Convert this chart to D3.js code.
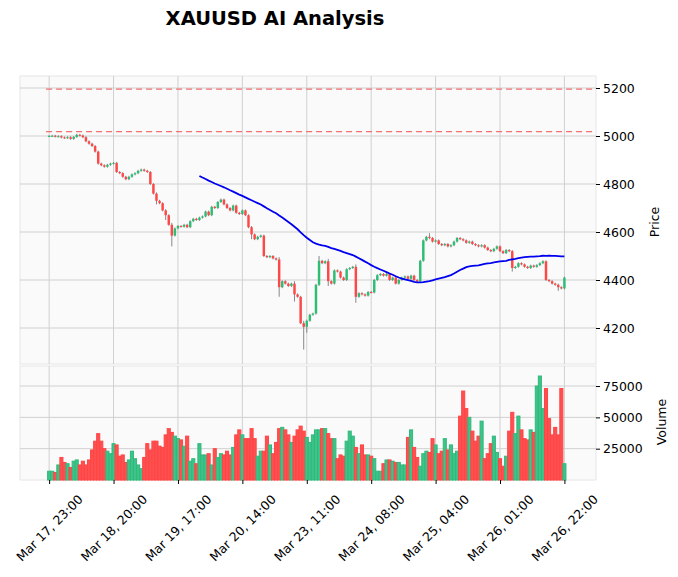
<!DOCTYPE html>
<html><head><meta charset="utf-8">
<script src="https://cdn.jsdelivr.net/npm/d3@7"></script>
<style>body{margin:0;background:#fff;font-family:"DejaVu Sans",sans-serif}</style>
</head><body><svg id="c" width="678" height="577"></svg>
<script>
const tickLabels = ["Mar 17, 23:00","Mar 18, 20:00","Mar 19, 17:00","Mar 20, 14:00","Mar 23, 11:00","Mar 24, 08:00","Mar 25, 04:00","Mar 26, 01:00","Mar 26, 22:00"];
const tickIndex = [0,21,42,63,84,105,126,147,168];
const firstOpen = 5000;
const closes = [
5000,5001,4998,4999,4994,4992,4995,4988,4996,5005,5002,4995,4978,4968,4958,4935,4885,4878,4872,4880,
4885,4888,4850,4845,4830,4820,4830,4840,4845,4855,4860,4855,4850,4800,4760,4730,4720,4690,4670,4630,
4585,4615,4625,4622,4630,4620,4645,4655,4650,4660,4665,4685,4670,4705,4700,4725,4735,4715,4700,4690,
4710,4680,4675,4690,4670,4620,4590,4570,4580,4585,4500,4495,4500,4490,4485,4370,4395,4385,4375,4385,
4340,4330,4220,4205,4230,4255,4260,4380,4480,4470,4478,4395,4385,4440,4435,4410,4400,4445,4450,4455,
4330,4345,4340,4335,4350,4348,4400,4420,4425,4418,4425,4400,4410,4385,4400,4410,4415,4405,4418,4400,
4395,4480,4565,4580,4575,4560,4565,4550,4545,4550,4540,4545,4560,4575,4570,4565,4555,4560,4550,4545,
4540,4545,4535,4525,4520,4530,4540,4520,4512,4525,4520,4450,4455,4470,4465,4455,4450,4460,4455,4462,
4470,4478,4400,4395,4385,4380,4370,4365,4410];
const volumes = [
7,7,6,12,18,14,13,10,15,16,12,15,12,16,24,
31,37,31,25,23,21,29,28,19,20,14,16,23,17,12,
9,18,29,24,31,31,27,26,36,41,38,35,33,32,27,
35,15,17,13,29,20,20,21,12,25,18,21,20,23,20,
26,36,40,36,33,33,41,33,19,23,23,35,28,21,30,
41,42,40,36,30,35,40,
43,39,34,30,36,40,40,41,41,37,33,33,17,20,19,
31,39,35,26,21,28,20,20,19,17,7,7,13,16,16,
15,14,14,12,12,34,40,26,18,11,21,23,22,33,28,
21,23,33,24,28,21,23,51,
71,57,50,39,31,35,47,17,21,29,35,22,17,11,19,
39,54,37,51,40,33,32,40,38,
75,83,57,73,49,36,42,36,73,13].map(v=>v*1000);
// extra wick length (price units) for notable candles: [index, up, down]
const bigWicks = [[35,5,15],[38,5,20],[40,8,45],[66,5,20],[75,10,40],[80,10,30],[83,10,95],[84,5,25],[88,20,5],[91,10,20],[100,10,25],[124,15,5],[151,5,15],[166,5,15]];
const hlines = [5195,5018];
const maPeriod = 50;
const priceTicks = [4200,4400,4600,4800,5000,5200];
const volTicks = [25000,50000,75000];

const data = closes.map((c,i)=>{
  const o = i===0?firstOpen:closes[i-1];
  let up=4,dn=4;
  const w = bigWicks.find(b=>b[0]===i); if(w){up=w[1];dn=w[2];}
  return {i,o,c,h:Math.max(o,c)+up,l:Math.min(o,c)-dn,v:volumes[i]};
});
const ma = data.map((d,i)=> i<maPeriod-1?null:d3.mean(closes.slice(i-maPeriod+1,i+1)));

const svg = d3.select("#c");
const L=20,R=596,PT=76,PB=364,VT=366,VB=480;
const x = d3.scaleLinear().domain([-9.5,178.3]).range([L,R]);
const y = d3.scaleLinear().domain([4050,5250]).range([PB,PT]);
const yv = d3.scaleLinear().domain([0,91000]).range([VB,VT]);
const UP="#2dbd75", DN="#fe4747";
const up = d=>d.c>=d.o;

svg.append("text").attr("x",275).attr("y",25).attr("text-anchor","middle").attr("font-size",19.5).attr("font-weight","bold").text("XAUUSD AI Analysis");

function panel(t,b){
  svg.append("rect").attr("x",L).attr("y",t).attr("width",R-L).attr("height",b-t).attr("fill","#fafafa").attr("stroke","#e6e6e6");
}
panel(PT,PB); panel(VT,VB);
const grid = svg.append("g").attr("stroke","#d0d0d0").attr("stroke-width",1);
tickIndex.forEach(t=>{grid.append("line").attr("x1",x(t)).attr("x2",x(t)).attr("y1",PT).attr("y2",PB);
  grid.append("line").attr("x1",x(t)).attr("x2",x(t)).attr("y1",VT).attr("y2",VB);});
priceTicks.forEach(p=>grid.append("line").attr("x1",L).attr("x2",R).attr("y1",y(p)).attr("y2",y(p)));
volTicks.forEach(v=>grid.append("line").attr("x1",L).attr("x2",R).attr("y1",yv(v)).attr("y2",yv(v)));

hlines.forEach(p=>svg.append("line").attr("x1",x(-1)).attr("x2",R).attr("y1",y(p)).attr("y2",y(p))
  .attr("stroke","#f07070").attr("stroke-dasharray","6,4").attr("stroke-width",1.2));

const bw = (x(1)-x(0))*0.8;
const cg = svg.append("g");
cg.selectAll("line.w").data(data).join("line").attr("x1",d=>x(d.i)).attr("x2",d=>x(d.i))
  .attr("y1",d=>y(d.h)).attr("y2",d=>y(d.l)).attr("stroke","#888").attr("stroke-width",1);
cg.selectAll("rect").data(data).join("rect").attr("x",d=>x(d.i)-bw/2).attr("width",bw)
  .attr("y",d=>y(Math.max(d.o,d.c))).attr("height",d=>Math.max(1,Math.abs(y(d.o)-y(d.c))))
  .attr("fill",d=>up(d)?UP:DN);

const line = d3.line().defined(d=>d!=null).x((d,i)=>x(i)).y(d=>y(d));
svg.append("path").datum(ma).attr("d",line).attr("fill","none").attr("stroke","#0000ee").attr("stroke-width",1.8);

const vb = x(1)-x(0);
svg.append("g").selectAll("rect").data(data).join("rect").attr("x",d=>x(d.i)-vb/2).attr("width",vb)
  .attr("y",d=>yv(d.v)).attr("height",d=>VB-yv(d.v)).attr("fill",d=>up(d)?"#3cc489":"#fe5050")
  .attr("stroke",d=>up(d)?"#32b87c":"#f44");

const ya = svg.append("g").attr("transform",`translate(${R},0)`).call(d3.axisRight(y).tickValues(priceTicks).tickFormat(d3.format("d")).tickSize(4));
const va = svg.append("g").attr("transform",`translate(${R},0)`).call(d3.axisRight(yv).tickValues(volTicks).tickFormat(d3.format("d")).tickSize(4));
[ya,va].forEach(a=>{a.select(".domain").remove();a.selectAll("text").attr("font-size",12.5).attr("fill","#000").attr("font-family","DejaVu Sans");});
const xa = svg.append("g").attr("transform",`translate(0,${VB})`).call(d3.axisBottom(x).tickValues(tickIndex).tickFormat((d,i)=>tickLabels[i]).tickSize(4));
xa.select(".domain").remove();
xa.selectAll("text").attr("font-size",12.5).attr("fill","#000").attr("font-family","DejaVu Sans")
  .attr("text-anchor","middle").attr("x",0).attr("y",0).attr("dy","0.35em").attr("transform","translate(0,48) rotate(-45)");
svg.append("text").attr("transform","translate(659,222) rotate(-90)").attr("text-anchor","middle").attr("font-size",12.5).text("Price");
svg.append("text").attr("transform","translate(666,422) rotate(-90)").attr("text-anchor","middle").attr("font-size",12.5).text("Volume");
</script></body></html>
